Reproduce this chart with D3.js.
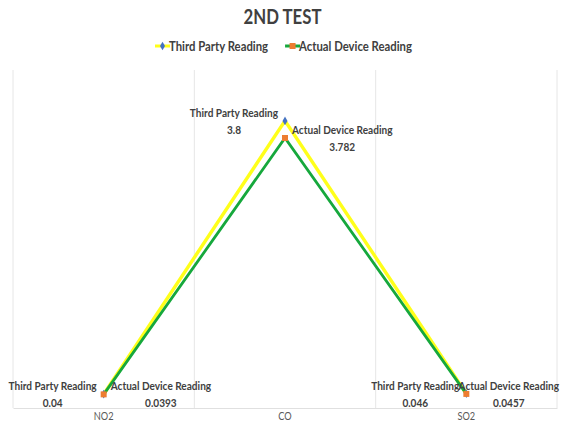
<!DOCTYPE html>
<html>
<head>
<meta charset="utf-8">
<script src="https://cdn.jsdelivr.net/npm/d3@7"></script>
<style>
  html, body { margin: 0; padding: 0; background: #ffffff; overflow: hidden; }
  svg { display: block; }
  text { font-family: "Lato", "Noto Sans", sans-serif; }
</style>
</head>
<body>
<svg id="chart" width="561" height="421"></svg>
<script>
// Gas readings from the second test
const categories = ["NO2", "CO", "SO2"];
const thirdPartyReading = [0.04, 3.8, 0.046];
const actualDeviceReading = [0.0393, 3.782, 0.0457];
const seriesNames = ["Third Party Reading", "Actual Device Reading"];
const chartTitle = "2ND TEST";

const W = 561, H = 421;
const plot = { left: 13, right: 557, top: 70, bottom: 408 };
const squeeze = 0.84;   // horizontal condensing applied to all text

const svg = d3.select("#chart");

// Text drawn horizontally condensed; returns the group and rendered width
function condensedText(parent, x, y, str, opts) {
  const g = parent.append("g").attr("transform", `translate(${x},${y}) scale(${squeeze},1)`);
  const t = g.append("text")
    .attr("text-anchor", opts.anchor || "start")
    .attr("fill", opts.fill || "#404040")
    .style("font-size", opts.size + "px")
    .style("font-weight", opts.weight || "bold")
    .text(str);
  return { g, width: t.node().getComputedTextLength() * squeeze };
}

// Category bands; points sit in the middle of each band
const x = d3.scaleBand().domain(categories).range([plot.left, plot.right]).paddingInner(0).paddingOuter(0);
const cx = c => x(c) + x.bandwidth() / 2;

// Each series is plotted on its own value axis (primary / secondary)
const yThird = d3.scaleLinear().domain([-0.15, 4.5]).range([plot.bottom, plot.top]);
const yActual = d3.scaleLinear().domain([-0.16, 4.775]).range([plot.bottom, plot.top]);

// Vertical gridlines at band boundaries
const gridPositions = categories.map(c => x(c)).concat([x.range()[1]]);
svg.append("g").selectAll("line").data(gridPositions).join("line")
  .attr("x1", d => d).attr("x2", d => d)
  .attr("y1", plot.top).attr("y2", plot.bottom)
  .attr("stroke", "#e6e6e6").attr("stroke-width", 1);

// Category axis (bottom)
const xAxis = d3.axisBottom(x).tickSize(0).tickFormat("");
const gx = svg.append("g").attr("transform", `translate(0,${plot.bottom})`).call(xAxis);
gx.select(".domain").attr("stroke", "#e0e0e0");
categories.forEach(c => {
  condensedText(svg, cx(c), 420, c, { anchor: "middle", size: 11, weight: "normal", fill: "#595959" });
});

const series = [
  { name: seriesNames[0], values: thirdPartyReading, y: yThird, color: "#ffff1a", width: 3.4, marker: "diamond", markerColor: "#4472c4", side: "left" },
  { name: seriesNames[1], values: actualDeviceReading, y: yActual, color: "#16a83c", width: 2.8, marker: "square", markerColor: "#ed7d31", side: "right" }
];

const line = s => d3.line().x((d, i) => cx(categories[i])).y(d => s.y(d));

series.forEach(s => {
  svg.append("path").datum(s.values)
    .attr("d", line(s))
    .attr("fill", "none")
    .attr("stroke", s.color)
    .attr("stroke-width", s.width)
    .attr("stroke-linejoin", "miter");
});

const markerPath = type => d3.symbol()
  .type(type === "diamond" ? d3.symbolDiamond : d3.symbolSquare)
  .size(type === "diamond" ? 22 : 36)();

series.forEach(s => {
  svg.append("g").selectAll("path").data(s.values).join("path")
    .attr("d", markerPath(s.marker))
    .attr("transform", (d, i) => `translate(${cx(categories[i])},${s.y(d)})`)
    .attr("fill", s.markerColor);
});

// Data labels: series name above, value below, centred under the name.
// Labels are kept inside the chart edges.
series.forEach(s => {
  const g = svg.append("g");
  s.values.forEach((v, i) => {
    const px = cx(categories[i]);
    const py = s.y(v);
    const name = condensedText(g, 0, py - 4, s.name, { size: 12 });
    const w = name.width;
    let left = s.side === "left" ? px - 7 - w : px + 7;
    left = Math.max(2, Math.min(left, W - 2 - w));
    name.g.attr("transform", `translate(${left},${py - 4}) scale(${squeeze},1)`);
    condensedText(g, left + w / 2, py + 13, String(v), { anchor: "middle", size: 12 });
  });
});

// Title
condensedText(svg, W / 2 + 2, 24, chartTitle, { anchor: "middle", size: 20 });

// Legend
const legend = svg.append("g").attr("transform", "translate(0,46)");
let lx = 155;
series.forEach(s => {
  const g = legend.append("g").attr("transform", `translate(${lx},0)`);
  g.append("line").attr("x1", 0).attr("x2", 15).attr("y1", 0).attr("y2", 0)
    .attr("stroke", s.color).attr("stroke-width", 3);
  g.append("path").attr("d", markerPath(s.marker))
    .attr("transform", "translate(7.5,0)").attr("fill", s.markerColor);
  const t = condensedText(g, 14, 5, s.name, { size: 13.5 });
  lx += 14 + t.width + 17;
});
</script>
</body>
</html>
